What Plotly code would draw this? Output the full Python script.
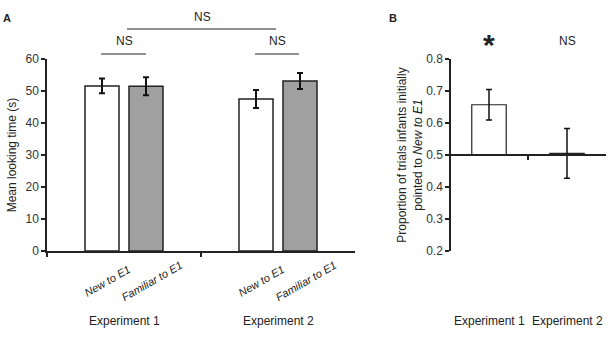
import plotly.graph_objects as go

W, H = 610, 337

# ---- data ----
groups_a = ["Experiment 1", "Experiment 2"]
new_vals = [51.6, 47.5]
new_err = [2.3, 2.8]
fam_vals = [51.5, 53.1]
fam_err = [2.8, 2.5]
sub_labels = ["New to E1", "Familiar to E1"]

groups_b = ["Experiment 1", "Experiment 2"]
prop_vals = [0.657, 0.505]
prop_err = [0.048, 0.078]
chance = 0.5

a_ticks = [0, 10, 20, 30, 40, 50, 60]
b_ticks = [0.2, 0.3, 0.4, 0.5, 0.6, 0.7, 0.8]

def px(x):
    return x / W

def py(y):
    return 1 - y / H

FONT = "Liberation Sans, Arial, sans-serif"
TXT = "#222222"

fig = go.Figure()

fig.add_trace(go.Bar(
    x=groups_a, y=new_vals, name=sub_labels[0],
    marker=dict(color="white", line=dict(color="#222", width=1.5)),
    error_y=dict(type="data", array=new_err, color="#111", thickness=2, width=3),
    xaxis="x", yaxis="y", showlegend=False))
fig.add_trace(go.Bar(
    x=groups_a, y=fam_vals, name=sub_labels[1],
    marker=dict(color="#a0a0a0", line=dict(color="#222", width=1.5)),
    error_y=dict(type="data", array=fam_err, color="#111", thickness=2, width=3),
    xaxis="x", yaxis="y", showlegend=False))

fig.add_trace(go.Bar(
    x=groups_b, y=[v - chance for v in prop_vals], base=chance,
    marker=dict(color="white", line=dict(color="#222", width=1.2)),
    error_y=dict(type="data", array=prop_err, color="#111", thickness=1.5, width=3),
    xaxis="x2", yaxis="y2", showlegend=False, offsetgroup="b"))

ydom = [py(251), py(59)]

axis_common = dict(showline=True, linecolor="#222", linewidth=1.5, showgrid=False,
                   zeroline=False, ticks="outside", tickcolor="#222", tickwidth=1.5,
                   automargin=False)

annotations = []
shapes = []

def text(x, y, s, size=12, **kw):
    annotations.append(dict(x=px(x), y=py(y), xref="paper", yref="paper", text=s,
                            showarrow=False, font=dict(family=FONT, size=size, color=TXT),
                            xanchor="center", yanchor="middle", **kw))

def hline(x0, x1, y, color="#222"):
    shapes.append(dict(type="line", xref="paper", yref="paper", x0=px(x0), x1=px(x1),
                       y0=py(y), y1=py(y), line=dict(color=color, width=1.2)))

# panel letters
text(7, 18, "<b>A</b>", size=11)
text(393, 18, "<b>B</b>", size=11)

# NS brackets panel A
text(202, 17, "NS")
hline(127, 276, 29)
text(124, 41, "NS")
hline(101, 146, 54)
text(277, 41, "NS")
hline(255, 299, 54)

# panel B significance
text(489, 44, "<b>*</b>", size=30)
text(567, 41, "NS")

# rotated sub labels (relative to group category positions)
for g in groups_a:
    for lab, shift in zip(sub_labels, [-17, 28]):
        annotations.append(dict(x=g, y=py(281), xref="x", yref="paper", xshift=shift,
                                text="<i>%s</i>" % lab, textangle=-30, showarrow=False,
                                font=dict(family=FONT, size=11, color=TXT),
                                xanchor="center", yanchor="middle"))
    annotations.append(dict(x=g, y=py(321), xref="x", yref="paper", text=g,
                            showarrow=False, font=dict(family=FONT, size=12, color=TXT),
                            xanchor="center", yanchor="middle"))
for g in groups_b:
    annotations.append(dict(x=g, y=py(321), xref="x2", yref="paper", text=g,
                            showarrow=False, font=dict(family=FONT, size=12, color=TXT),
                            xanchor="center", yanchor="middle"))

fig.update_layout(
    width=W, height=H, margin=dict(l=0, r=0, t=0, b=0, pad=0, autoexpand=False),
    paper_bgcolor="white", plot_bgcolor="white",
    font=dict(family=FONT, size=12, color=TXT),
    barmode="group", bargap=0.4286, bargroupgap=0.227,
    xaxis=dict(domain=[px(47), px(355)], anchor="y", type="category",
               range=[-0.5, 1.5], tickson="boundaries", ticklen=4,
               showticklabels=False, **axis_common),
    yaxis=dict(domain=ydom, anchor="x", range=[0, 60], tickvals=a_ticks, ticklen=4,
               tickfont=dict(size=12, color="#333"),
               title=dict(text="Mean looking time (s)", standoff=6,
                          font=dict(size=12, color=TXT)),
               **axis_common),
    xaxis2=dict(domain=[px(450), px(606)], anchor="free",
                position=(H - 155) / H, type="category", range=[-0.5, 1.5],
                tickson="boundaries", ticklen=4, showticklabels=False, **axis_common),
    yaxis2=dict(domain=ydom, anchor="free", position=px(450), range=[0.2, 0.8],
                tickvals=b_ticks, tickformat=".1f", ticklen=4,
                tickfont=dict(size=12, color="#333"),
                title=dict(text="Proportion of trials infants initially<br>pointed to <i>New to E1</i>",
                           standoff=0, font=dict(size=12, color=TXT)),
                **axis_common),
    annotations=annotations, shapes=shapes,
)

fig.write_html("out.html")
